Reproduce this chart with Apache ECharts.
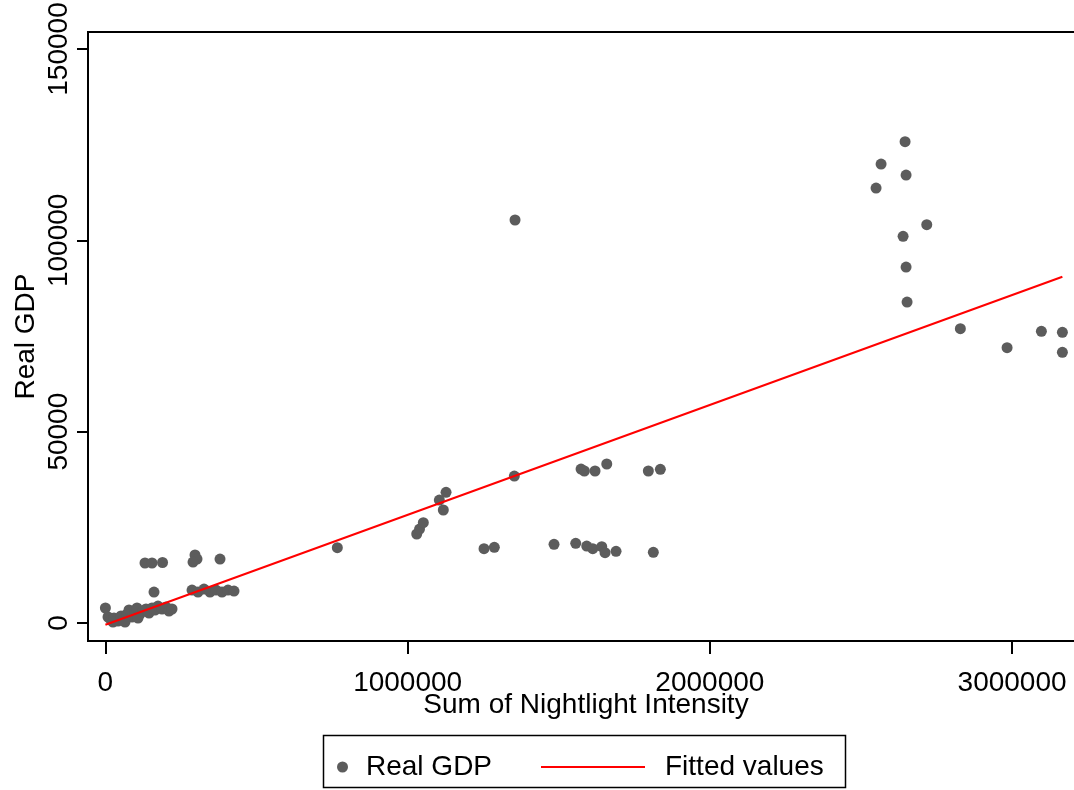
<!DOCTYPE html>
<html>
<head>
<meta charset="utf-8">
<title>Real GDP vs Nightlight</title>
<script src="https://cdn.jsdelivr.net/npm/echarts@6/dist/echarts.min.js"></script>
<style>
	html, body { margin: 0; padding: 0; background: #fff; }
	#chart { width: 1074px; height: 790px; }
</style>
</head>
<body>
<div id="chart"></div>
<script>
'use strict';
// sum of nightlight intensity (x) and real GDP (y)
var lightX = [
	0, 8600, 18500, 28500, 41700, 51600, 61600, 71500, 78100, 88000,
	97900, 104600, 114500, 124400, 134300, 144300, 154200, 164100, 174000, 187300,
	200500, 210400, 220400, 25100, 64900, 107900,
	160800,
	131000, 154200, 189000, 296500, 303100, 289900, 379200,
	286600, 306400, 326300, 346100, 366000, 385800, 405700, 425500,
	767400, 1030100, 1039400, 1051900, 1104900, 1127100, 1118100, 1353100, 1355400,
	1252800, 1286900, 1484400, 1556200, 1592600, 1612500, 1642300, 1653200, 1689600, 1813000,
	1573800, 1584800, 1620100, 1658900, 1796500, 1836200,
	2646000, 2566600, 2649300, 2550000, 2717700, 2639400, 2649300, 2652600,
	2828900, 2983500, 3097000, 3166500, 3166500
];
var realGdp = [
	3920, 1570, 780, 1310, 520, 1830, 1050, 2350, 3400, 1570,
	2870, 3920, 2350, 3140, 3660, 2610, 3920, 3400, 4440, 3660,
	4180, 3140, 3660, 260, 260, 1310,
	8100,
	15680, 15680, 15810, 17770, 16720, 15940, 16720,
	8620, 8100, 8880, 8100, 8620, 8100, 8620, 8360,
	19680, 23260, 24560, 26210, 32140, 34150, 29530, 38410, 105310,
	19410, 19780, 20560, 20830, 20120, 19410, 19940, 18370, 18740, 18470,
	40240, 39720, 39720, 41550, 39720, 40160,
	125770, 119940, 117060, 113670, 104080, 101050, 93020, 83880,
	76900, 71940, 76220, 75960, 70740
];
// fitted line end points
var fittedX = [0, 3166500];
var fittedY = [-460, 90490];

var xTicks = [0, 1000000, 2000000, 3000000];
var yTicks = [0, 50000, 100000, 150000];

var FONT = 'Liberation Sans';
var FS = 28;

function pairs(xs, ys) {
	return xs.map(function(x, i){ return [x, ys[i]]; });
}
// plain numbers, no thousands separator
function plain(v) { return String(v); }

var myChart = echarts.init(document.getElementById('chart'), null, { renderer: 'canvas' });

myChart.setOption({
	animation: false,
	grid: {
		left: 88, top: 32, right: -10, bottom: 149,
		outerBoundsMode: 'none',
		show: true, borderColor: '#000', borderWidth: 2
	},
	xAxis: {
		type: 'value',
		min: -57600, max: 3238000,
		name: 'Sum of Nightlight Intensity',
		nameLocation: 'middle',
		nameGap: 50,
		nameMoveOverlap: false,
		nameTextStyle: { fontFamily: FONT, fontSize: FS, color: '#000' },
		axisLine: { show: true, onZero: false, lineStyle: { color: '#000', width: 2 } },
		axisTick: { show: true, length: 13, lineStyle: { color: '#000', width: 2 }, customValues: xTicks },
		axisLabel: { fontFamily: FONT, fontSize: FS, color: '#000', margin: 28, formatter: plain, customValues: xTicks },
		splitLine: { show: false }
	},
	yAxis: {
		type: 'value',
		min: -4700, max: 154440,
		name: 'Real GDP',
		nameLocation: 'middle',
		nameGap: 48,
		nameMoveOverlap: false,
		nameRotate: 90,
		nameTextStyle: { fontFamily: FONT, fontSize: FS, color: '#000' },
		axisLine: { show: true, onZero: false, lineStyle: { color: '#000', width: 2 } },
		axisTick: { show: true, length: 11, lineStyle: { color: '#000', width: 2 }, customValues: yTicks },
		axisLabel: { fontFamily: FONT, fontSize: FS, color: '#000', margin: 15, rotate: 90, formatter: plain, customValues: yTicks },
		splitLine: { show: false }
	},
	legend: [{
		data: ['Real GDP'],
		left: 332, top: 748,
		icon: 'circle',
		itemWidth: 11, itemHeight: 11,
		textStyle: { fontFamily: FONT, fontSize: FS, color: '#000', padding: [0, 0, 0, 13] }
	}, {
		data: [{ name: 'Fitted values', icon: 'rect' }],
		left: 536, top: 748,
		itemWidth: 104, itemHeight: 2,
		textStyle: { fontFamily: FONT, fontSize: FS, color: '#000', padding: [0, 0, 0, 15] }
	}],
	graphic: [{
		type: 'rect',
		shape: { x: 323.5, y: 735.5, width: 522, height: 52 },
		style: { fill: 'none', stroke: '#000', lineWidth: 1.5 }
	}],
	series: [{
		name: 'Real GDP',
		type: 'scatter',
		symbol: 'circle',
		symbolSize: 11,
		itemStyle: { color: '#5c5c5c', opacity: 1 },
		data: pairs(lightX, realGdp),
		z: 2
	}, {
		name: 'Fitted values',
		type: 'line',
		symbol: 'none',
		lineStyle: { color: '#ff0000', width: 2 },
		itemStyle: { color: '#ff0000' },
		data: pairs(fittedX, fittedY),
		z: 3
	}]
});
</script>
</body>
</html>
